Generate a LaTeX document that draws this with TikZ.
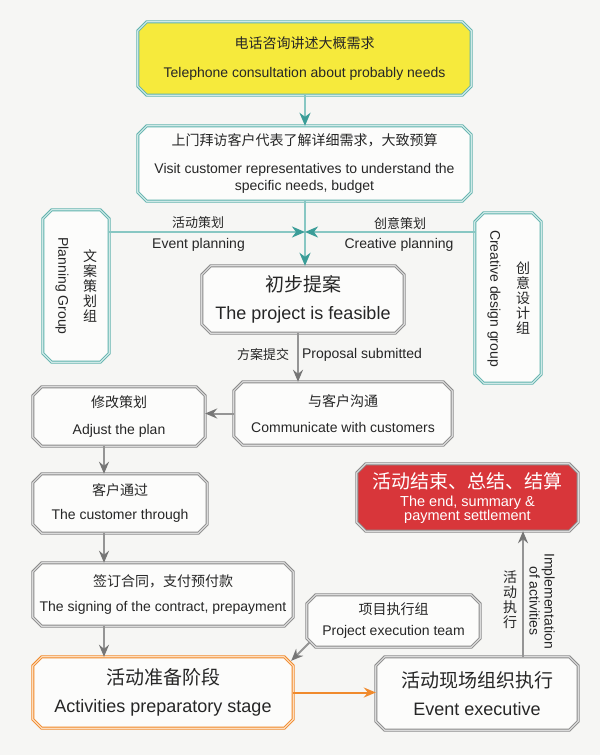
\documentclass[tikz,border=0pt]{standalone}
\usepackage{fontspec}
\setmainfont{Liberation Sans}
\newfontfamily\cjk{Noto Sans CJK SC}
\usetikzlibrary{arrows.meta,calc,backgrounds}
\definecolor{bgc}{HTML}{F6F6F4}
\definecolor{boxf}{HTML}{FCFCFB}
\definecolor{yel}{HTML}{F6EA3C}
\definecolor{redf}{HTML}{D8363A}
\definecolor{tealD}{HTML}{62B3AE}
\definecolor{tealL}{HTML}{CFE9E7}
\definecolor{tealLine}{HTML}{88C7C3}
\definecolor{tealHead}{HTML}{3B9D98}
\definecolor{grayD}{HTML}{8C8C8C}
\definecolor{grayL}{HTML}{DADADA}
\definecolor{grayLine}{HTML}{959595}
\definecolor{grayHead}{HTML}{767676}
\definecolor{oraD}{HTML}{F08A2C}
\definecolor{oraL}{HTML}{FDDDBE}
\definecolor{txt}{HTML}{262626}
\newcommand\tightls{\lineskiplimit-20pt\relax}
\newcommand\octbox[3]{%
 \path[#2] ($(#1.north west)+(#3,0pt)$) -- ($(#1.north east)+(-#3,0pt)$) -- ($(#1.north east)+(0pt,-#3)$) -- ($(#1.south east)+(0pt,#3)$) -- ($(#1.south east)+(-#3,0pt)$) -- ($(#1.south west)+(#3,0pt)$) -- ($(#1.south west)+(0pt,#3)$) -- ($(#1.north west)+(0pt,-#3)$) -- cycle;}
\begin{document}
\begin{tikzpicture}[x=1pt,y=-1pt,
  boxn/.style={inner sep=0pt, align=center, text=txt, font=\fontsize{14}{17}\selectfont},
  bigboxn/.style={boxn, font=\fontsize{18}{21}\selectfont},
  lab/.style={inner sep=0pt, text=txt, font=\fontsize{14}{17}\selectfont},
  zhlab/.style={inner sep=0pt, text=txt, font=\cjk\fontsize{13}{16}\selectfont},
  stack/.style={inner sep=0pt, align=center, text=txt, font=\cjk\fontsize{14}{15}\selectfont},
  tealbox/.style={draw=tealD, double=tealL, line width=0.9pt, double distance=1.2pt},
  graybox/.style={draw=grayD, double=grayL, line width=0.9pt, double distance=1.2pt},
  orabox/.style={draw=oraD, double=oraL, line width=0.9pt, double distance=1.2pt},
  tealarrow/.style={draw=tealLine, line width=2pt, -{Stealth[length=13pt,width=11pt,inset=4pt,color=tealHead]}},
  grayarrow/.style={draw=grayLine, line width=2pt, -{Stealth[length=12pt,width=10pt,inset=4pt,color=grayHead]}},
  oraarrow/.style={draw=oraD, line width=2pt, -{Stealth[length=12pt,width=10pt,inset=4pt,color=oraD]}}
]
\useasboundingbox (0,0) rectangle (600,755);
% boxes
\node[boxn, minimum width=333pt, minimum height=73pt] (y1) at (304.5,58.5)
  {{\cjk 电话咨询讲述大概需求}\\[12pt]Telephone consultation about probably needs};
\node[boxn, minimum width=333pt, minimum height=75pt] (v) at (304.5,163.5)
  {{\cjk 上门拜访客户代表了解详细需求，大致预算}\\[11pt]Visit customer representatives to understand the\\specific needs, budget};
\node[minimum width=66pt, minimum height=152pt, inner sep=0pt] (pg) at (76,286) {};
\node[minimum width=66pt, minimum height=170pt, inner sep=0pt] (cg) at (508,298) {};
\node[stack] (pgzh) at (90,286) {文\\案\\策\\划\\组};
\node[lab, rotate=-90] (pgen) at (62,286) {Planning Group};
\node[stack] (cgzh) at (523,298) {创\\意\\设\\计\\组};
\node[lab, rotate=-90] (cgen) at (494,298.5) {Creative design group};
\node[bigboxn, minimum width=202pt, minimum height=67pt] (p) at (303,299.5)
  {{\cjk\fontsize{19}{21}\selectfont 初步提案}\\[7pt]The project is feasible};
\node[boxn, minimum width=218pt, minimum height=63pt] (comm) at (343,413.5)
  {{\cjk 与客户沟通}\\[9pt]Communicate with customers};
\node[boxn, minimum width=172pt, minimum height=59pt] (adj) at (119,416.5)
  {{\cjk 修改策划}\\[10pt]Adjust the plan};
\node[boxn, minimum width=174pt, minimum height=59pt] (cust) at (120,503.5)
  {{\cjk 客户通过}\\[7pt]The customer through};
\node[boxn, minimum width=260pt, minimum height=63pt] (sign) at (163,594.5)
  {{\cjk 签订合同，支付预付款}\\[8pt]The signing of the contract, prepayment};
\node[bigboxn, minimum width=260pt, minimum height=71pt] (prep) at (163,692.5)
  {{\cjk\fontsize{19}{21}\selectfont 活动准备阶段}\\[7pt]Activities preparatory stage};
\node[boxn, minimum width=173pt, minimum height=52pt] (team) at (393.5,621)
  {{\cjk 项目执行组}\\[4pt]Project execution team};
\node[bigboxn, minimum width=202pt, minimum height=73pt] (exec) at (477,693.5)
  {{\cjk\fontsize{19}{21}\selectfont 活动现场组织执行}\\[7pt]Event executive};
\node[boxn, text=white, minimum width=221pt, minimum height=67pt, font=\fontsize{14.5}{14}\selectfont\tightls] (end) at (467.5,497.5)
  {{\cjk\fontsize{19}{14}\selectfont 活动结束、总结、结算}\\[4pt]The end, summary \&\\payment settlement};
% labels
\node[zhlab] (l1a) at (198,223) {活动策划};
\node[lab] (l1b) at (198.5,245) {Event planning};
\node[zhlab] (l2a) at (400,223) {创意策划};
\node[lab] (l2b) at (399,245) {Creative planning};
\node[zhlab] (l3a) at (263,355) {方案提交};
\node[lab] (l3b) at (362,355) {Proposal submitted};
\node[stack] (l4a) at (510,600) {活\\动\\执\\行};
\node[lab, rotate=-90, align=center, font=\fontsize{14}{15}\selectfont] (l4b) at (542,601) {Implementation\\of activities};
% helper coordinates
\coordinate (J) at (305,232);
\coordinate (colC) at (305,0);
\coordinate (colM) at (298,0);
\coordinate (colL) at (104,0);
\coordinate (colR) at (523,0);
% box outlines on background
\begin{scope}[on background layer]
  \fill[bgc] (0,0) rectangle (600,755);
  \octbox{y1}{tealbox, fill=yel}{9pt}
  \octbox{v}{tealbox, fill=boxf}{9pt}
  \octbox{pg}{tealbox, fill=boxf}{9pt}
  \octbox{cg}{tealbox, fill=boxf}{9pt}
  \octbox{p}{graybox, fill=boxf}{9pt}
  \octbox{comm}{graybox, fill=boxf}{9pt}
  \octbox{adj}{graybox, fill=boxf}{9pt}
  \octbox{cust}{graybox, fill=boxf}{9pt}
  \octbox{sign}{graybox, fill=boxf}{9pt}
  \octbox{prep}{orabox, fill=boxf}{9pt}
  \octbox{team}{graybox, fill=boxf}{9pt}
  \octbox{exec}{graybox, fill=boxf}{9pt}
  \octbox{end}{graybox, fill=redf}{9pt}
\end{scope}
% connectors
\draw[tealarrow] (y1.south -| colC) -- (v.north -| colC);
\draw[tealarrow] (v.south -| colC) -- (p.north -| colC);
\draw[tealarrow] (J -| pg.east) -- (J);
\draw[tealarrow] (J -| cg.west) -- (J);
\draw[grayarrow] (p.south -| colM) -- (comm.north -| colM);
\draw[grayarrow] (comm.west) -- (comm.west -| adj.east);
\draw[grayarrow] (adj.south -| colL) -- (cust.north -| colL);
\draw[grayarrow] (cust.south -| colL) -- (sign.north -| colL);
\draw[grayarrow] (sign.south -| colL) -- (prep.north -| colL);
\draw[grayarrow] ($(team.south west)+(3pt,5pt)$) -- ($(prep.north east)+(-2pt,-4pt)$);
\draw[oraarrow] (prep.east) -- (prep.east -| exec.west);
\draw[grayarrow] (exec.north -| colR) -- (end.south -| colR);
\end{tikzpicture}
\end{document}
